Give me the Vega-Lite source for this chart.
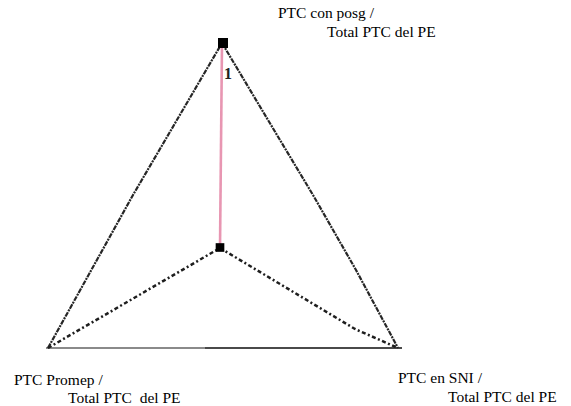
{
  "$schema": "https://vega.github.io/schema/vega-lite/v6.json",
  "width": 571,
  "height": 406,
  "padding": 0,
  "autosize": {"type": "fit", "contains": "padding"},
  "config": {"view": {"stroke": null}},
  "datasets": {
    "edges": [
      {"seg": "left", "o": 0, "x": 48, "y": 58},
      {"seg": "left", "o": 1, "x": 133, "y": 211},
      {"seg": "left", "o": 2, "x": 222, "y": 363},
      {"seg": "right", "o": 0, "x": 222, "y": 363},
      {"seg": "right", "o": 1, "x": 268, "y": 286},
      {"seg": "right", "o": 2, "x": 313, "y": 211},
      {"seg": "right", "o": 3, "x": 356, "y": 136},
      {"seg": "right", "o": 4, "x": 398, "y": 58},
      {"seg": "innerL", "o": 0, "x": 48, "y": 58},
      {"seg": "innerL", "o": 1, "x": 220, "y": 158},
      {"seg": "innerR", "o": 0, "x": 220, "y": 158},
      {"seg": "innerR", "o": 1, "x": 355, "y": 77},
      {"seg": "innerR", "o": 2, "x": 398, "y": 58},
      {"seg": "baseA", "o": 0, "x": 46, "y": 58},
      {"seg": "baseA", "o": 1, "x": 205, "y": 58},
      {"seg": "baseB", "o": 0, "x": 205, "y": 58},
      {"seg": "baseB", "o": 1, "x": 402, "y": 58},
      {"seg": "pink", "o": 0, "x": 222, "y": 363},
      {"seg": "pink", "o": 1, "x": 220, "y": 158}
    ],
    "nodes": [
      {"node": "top", "x": 223, "y": 363},
      {"node": "center", "x": 220, "y": 158.5}
    ],
    "labels": [
      {"label": "PTC con posg /", "x": 278, "y": 388},
      {"label": "Total PTC del PE", "x": 327, "y": 369},
      {"label": "PTC Promep /", "x": 14, "y": 21},
      {"label": "Total PTC\u00a0 del PE", "x": 68, "y": 3.5},
      {"label": "PTC en SNI /", "x": 398, "y": 23},
      {"label": "Total PTC del PE", "x": 448, "y": 4}
    ],
    "num": [
      {"label": "1", "x": 224, "y": 327}
    ]
  },
  "encoding": {
    "x": {"field": "x", "type": "quantitative", "scale": {"domain": [0, 571], "nice": false, "zero": false}, "axis": null},
    "y": {"field": "y", "type": "quantitative", "scale": {"domain": [0, 406], "nice": false, "zero": false}, "axis": null}
  },
  "layer": [
    {
      "data": {"name": "edges"},
      "transform": [{"filter": "datum.seg === 'baseA'"}],
      "mark": {"type": "line", "color": "#8a8a8a", "strokeWidth": 2.2},
      "encoding": {"order": {"field": "o"}}
    },
    {
      "data": {"name": "edges"},
      "transform": [{"filter": "datum.seg === 'baseB'"}],
      "mark": {"type": "line", "color": "#4a4a4a", "strokeWidth": 2.2},
      "encoding": {"order": {"field": "o"}}
    },
    {
      "data": {"name": "edges"},
      "transform": [{"filter": "datum.seg === 'left' || datum.seg === 'right'"}],
      "mark": {"type": "line", "color": "#262626", "strokeWidth": 2.2, "strokeDash": [5, 1, 2, 1]},
      "encoding": {"detail": {"field": "seg"}, "order": {"field": "o"}}
    },
    {
      "data": {"name": "edges"},
      "transform": [{"filter": "datum.seg === 'innerL' || datum.seg === 'innerR'"}],
      "mark": {"type": "line", "color": "#1e1e1e", "strokeWidth": 2.5, "strokeDash": [4, 2.5, 2, 2.5]},
      "encoding": {"detail": {"field": "seg"}, "order": {"field": "o"}}
    },
    {
      "data": {"name": "edges"},
      "transform": [{"filter": "datum.seg === 'pink'"}],
      "mark": {"type": "line", "color": "#e896b2", "strokeWidth": 2.6},
      "encoding": {"order": {"field": "o"}}
    },
    {
      "data": {"name": "nodes"},
      "mark": {"type": "square", "filled": true, "color": "#000000", "opacity": 1},
      "encoding": {
        "size": {"field": "node", "type": "nominal", "scale": {"domain": ["top", "center"], "range": [100, 75]}, "legend": null}
      }
    },
    {
      "data": {"name": "labels"},
      "mark": {"type": "text", "align": "left", "baseline": "alphabetic", "font": "Liberation Serif, Times New Roman, serif", "fontSize": 15.5, "color": "#000000"},
      "encoding": {"text": {"field": "label"}}
    },
    {
      "data": {"name": "num"},
      "mark": {"type": "text", "align": "left", "baseline": "alphabetic", "font": "Liberation Serif, Times New Roman, serif", "fontSize": 16, "fontWeight": "bold", "color": "#222222"},
      "encoding": {"text": {"field": "label"}}
    }
  ]
}
